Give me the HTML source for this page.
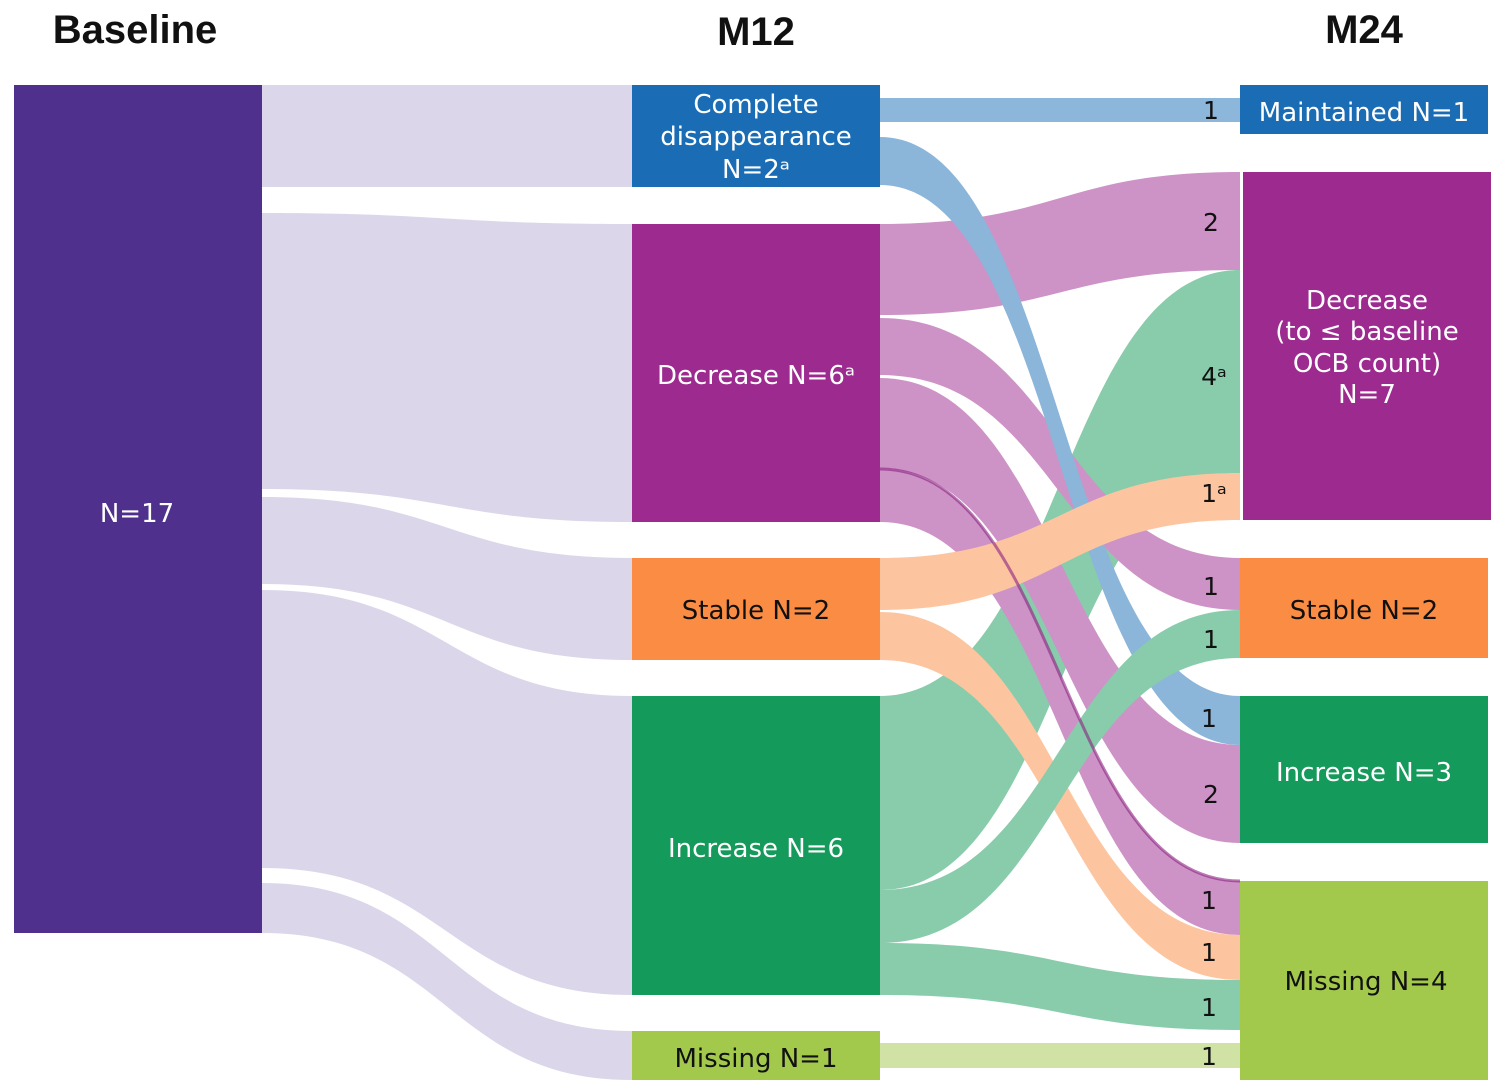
<!DOCTYPE html>
<html><head><meta charset="utf-8"><style>
html,body{margin:0;padding:0;background:#fff;}
svg{display:block;font-family:"DejaVu Sans","Liberation Sans",sans-serif;}
</style></head><body>
<svg width="1498" height="1090" viewBox="0 0 1498 1090" xmlns="http://www.w3.org/2000/svg">
<g font-family="Liberation Sans, sans-serif" font-weight="bold" font-size="40" fill="#111" text-anchor="middle">
<text x="135" y="43">Baseline</text>
<text x="756" y="45">M12</text>
<text x="1364" y="43">M24</text>
</g>
<!-- baseline flows -->
<g fill="#dcd6ea">
<path d="M262,85 L632,85 L632,187 L262,187 Z"/>
<path d="M262,213 C447,213 447,224 632,224 L632,522 C447,522 447,489 262,489 Z"/>
<path d="M262,497 C447,497 447,558 632,558 L632,660 C447,660 447,584 262,584 Z"/>
<path d="M262,590 C447,590 447,696 632,696 L632,995 C447,995 447,868 262,868 Z"/>
<path d="M262,883 C447,883 447,1031 632,1031 L632,1080 C447,1080 447,933 262,933 Z"/>
</g>
<!-- M12 -> M24 flows -->
<g opacity="0.5">
<path fill="#1a6db5" d="M880,98 L1240,98 L1240,122 L880,122 Z"/>
<path fill="#9c2a8f" d="M880,224 C1060,224 1060,172 1240,172 L1240,270 C1060,270 1060,315 880,315 Z"/>
<path fill="#149a5a" d="M880,696 C1060,696 1060,270 1240,270 L1240,473 C1060,473 1060,890 880,890 Z"/>
<path fill="#9c2a8f" d="M880,318 C1060,318 1060,558 1240,558 L1240,610 C1060,610 1060,375 880,375 Z"/>
<path fill="#9c2a8f" d="M880,378 C1060,378 1060,745 1240,745 L1240,843 C1060,843 1060,469 880,469 Z"/>
<path fill="#9c2a8f" d="M880,469 C1060,469 1060,881 1240,881 L1240,935 C1060,935 1060,522 880,522 Z"/>
<path fill="#1a6db5" d="M880,137 C1060,137 1060,696 1240,696 L1240,745 C1060,745 1060,185 880,185 Z"/>
<path fill="#fb8c44" d="M880,558 C1060,558 1060,473 1240,473 L1240,520 C1060,520 1060,610 880,610 Z"/>
<path fill="#fb8c44" d="M880,612 C1060,612 1060,935 1240,935 L1240,980 C1060,980 1060,660 880,660 Z"/>
<path fill="#149a5a" d="M880,890 C1060,890 1060,610 1240,610 L1240,658 C1060,658 1060,943 880,943 Z"/>
<path fill="#149a5a" d="M880,943 C1060,943 1060,980 1240,980 L1240,1030 C1060,1030 1060,995 880,995 Z"/>
<path fill="#a3c94c" d="M880,1043 L1240,1043 L1240,1068 L880,1068 Z"/>
</g>
<path d="M880,469 C1060,469 1060,881 1240,881" stroke="#8a2080" stroke-width="3" fill="none" opacity="0.6"/>
<!-- nodes -->
<rect x="14" y="85" width="248" height="848" fill="#4f318d"/>
<rect x="632" y="85" width="248" height="102" fill="#1a6db5"/>
<rect x="632" y="224" width="248" height="298" fill="#9c2a8f"/>
<rect x="632" y="558" width="248" height="102" fill="#fb8c44"/>
<rect x="632" y="696" width="248" height="299" fill="#149a5a"/>
<rect x="632" y="1031" width="248" height="49" fill="#a3c94c"/>
<rect x="1240" y="85" width="248" height="49" fill="#1a6db5"/>
<rect x="1243" y="172" width="248" height="348" fill="#9c2a8f"/>
<rect x="1240" y="558" width="248" height="100" fill="#fb8c44"/>
<rect x="1240" y="696" width="248" height="147" fill="#149a5a"/>
<rect x="1240" y="881" width="248" height="199" fill="#a3c94c"/>
<g font-size="26" text-anchor="middle" fill="#fff">
<text x="137" y="522">N=17</text>
<text x="756" y="113">Complete</text>
<text x="756" y="145">disappearance</text>
<text x="756" y="178">N=2ᵃ</text>
<text x="756" y="384">Decrease N=6ᵃ</text>
<text x="756" y="857">Increase N=6</text>
<text x="1364" y="121">Maintained N=1</text>
<text x="1367" y="309">Decrease</text>
<text x="1367" y="340">(to ≤ baseline</text>
<text x="1367" y="372">OCB count)</text>
<text x="1367" y="403">N=7</text>
<text x="1364" y="781">Increase N=3</text>
</g>
<g font-size="26" text-anchor="middle" fill="#111">
<text x="756" y="619">Stable N=2</text>
<text x="756" y="1067">Missing N=1</text>
<text x="1364" y="619">Stable N=2</text>
<text x="1366" y="990">Missing N=4</text>
</g>
<g font-size="25" text-anchor="middle" fill="#111">
<text x="1211" y="119">1</text>
<text x="1211" y="231">2</text>
<text x="1214" y="385">4ᵃ</text>
<text x="1214" y="502">1ᵃ</text>
<text x="1211" y="595">1</text>
<text x="1211" y="648">1</text>
<text x="1209" y="727">1</text>
<text x="1211" y="803">2</text>
<text x="1209" y="909">1</text>
<text x="1209" y="961">1</text>
<text x="1209" y="1016">1</text>
<text x="1209" y="1065">1</text>
</g>
</svg>
</body></html>
